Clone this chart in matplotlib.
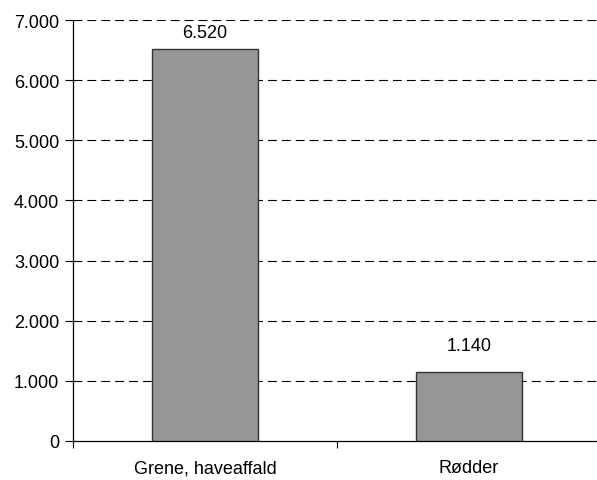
import matplotlib.pyplot as plt
import numpy as np

plt.rcParams["font.family"] = ["Liberation Sans", "DejaVu Sans"]

CATEGORIES = ["Grene, haveaffald", "Rødder"]
VALUES = [6520, 1140]
Y_TICKS = [0, 1000, 2000, 3000, 4000, 5000, 6000, 7000]

FS = 13
LABEL_OFFSETS = [11.5, 19.5]  # points above bar top, as in the original


def fmt(v):
    return f"{v:,.0f}".replace(",", ".")


fig = plt.figure(figsize=(5.97, 4.81), dpi=100)
ax = fig.add_axes([73 / 597, 39 / 481, 528 / 597, 421 / 481])

x = np.arange(len(CATEGORIES))
ax.bar(x, VALUES, width=0.4, color="#969696", edgecolor="#333333", linewidth=1.0, zorder=3)

for xi, v, off in zip(x, VALUES, LABEL_OFFSETS):
    ax.annotate(fmt(v), (xi, v), xytext=(0, off), textcoords="offset points",
                ha="center", va="center", fontsize=FS)

ax.set_xlim(-0.5, len(CATEGORIES) - 0.5)
ax.set_ylim(0, 7000)
ax.set_yticks(Y_TICKS)
ax.set_yticklabels([fmt(t) for t in Y_TICKS], fontsize=FS)
for t in Y_TICKS[1:]:
    ax.axhline(t, color="#000000", linestyle=(0, (8, 4.5)), linewidth=0.8, zorder=1)

ax.set_xticks(x)
ax.set_xticklabels(CATEGORIES, fontsize=FS)
ax.tick_params(axis="x", length=0, pad=13)
ax.set_xticks(np.arange(-0.5, len(CATEGORIES)), minor=True)
ax.tick_params(axis="x", which="minor", length=5, width=0.8, direction="out")
ax.tick_params(axis="y", length=6, width=0.8, direction="out", pad=4)

ax.spines["top"].set_visible(False)
ax.spines["right"].set_visible(False)
for s in ("left", "bottom"):
    ax.spines[s].set_linewidth(0.9)

fig.savefig("out.png", dpi=100)
